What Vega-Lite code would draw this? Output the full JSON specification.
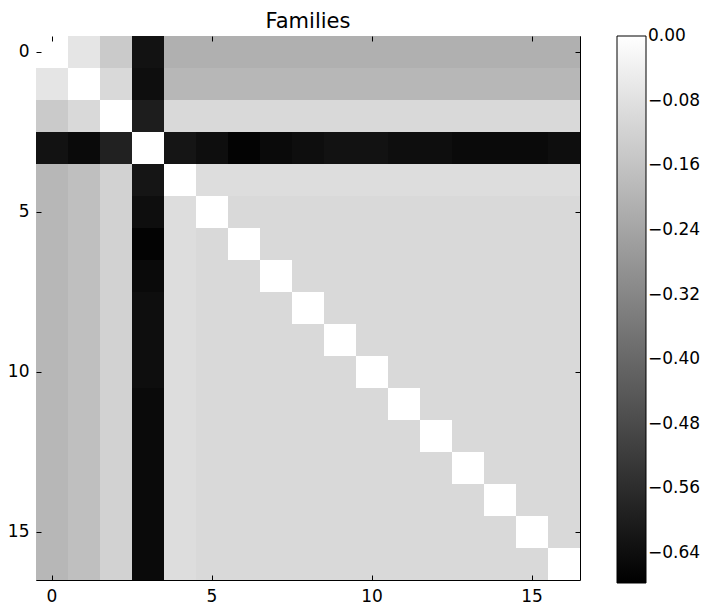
{
"$schema": "https://vega.github.io/schema/vega-lite/v6.json",
"width": 544, "height": 544,
"autosize": {"type": "none"},
"padding": {"left": 36, "top": 36, "right": 127, "bottom": 26},
"background": "white",
"title": {"text": "Families", "fontSize": 21, "font": "DejaVu Sans", "fontWeight": "normal", "color": "black", "offset": 4},
"data": {"values": [
{"r":0,"c":0,"v":0},{"r":0,"c":1,"v":-0.07},{"r":0,"c":2,"v":-0.14},{"r":0,"c":3,"v":-0.63},{"r":0,"c":4,"v":-0.21},{"r":0,"c":5,"v":-0.21},{"r":0,"c":6,"v":-0.21},{"r":0,"c":7,"v":-0.21},{"r":0,"c":8,"v":-0.21},{"r":0,"c":9,"v":-0.21},{"r":0,"c":10,"v":-0.21},{"r":0,"c":11,"v":-0.21},{"r":0,"c":12,"v":-0.21},{"r":0,"c":13,"v":-0.21},{"r":0,"c":14,"v":-0.21},{"r":0,"c":15,"v":-0.21},{"r":0,"c":16,"v":-0.21},
{"r":1,"c":0,"v":-0.07},{"r":1,"c":1,"v":0},{"r":1,"c":2,"v":-0.10},{"r":1,"c":3,"v":-0.64},{"r":1,"c":4,"v":-0.19},{"r":1,"c":5,"v":-0.19},{"r":1,"c":6,"v":-0.19},{"r":1,"c":7,"v":-0.19},{"r":1,"c":8,"v":-0.19},{"r":1,"c":9,"v":-0.19},{"r":1,"c":10,"v":-0.19},{"r":1,"c":11,"v":-0.19},{"r":1,"c":12,"v":-0.19},{"r":1,"c":13,"v":-0.19},{"r":1,"c":14,"v":-0.19},{"r":1,"c":15,"v":-0.19},{"r":1,"c":16,"v":-0.19},
{"r":2,"c":0,"v":-0.14},{"r":2,"c":1,"v":-0.10},{"r":2,"c":2,"v":0},{"r":2,"c":3,"v":-0.60},{"r":2,"c":4,"v":-0.10},{"r":2,"c":5,"v":-0.10},{"r":2,"c":6,"v":-0.10},{"r":2,"c":7,"v":-0.10},{"r":2,"c":8,"v":-0.10},{"r":2,"c":9,"v":-0.10},{"r":2,"c":10,"v":-0.10},{"r":2,"c":11,"v":-0.10},{"r":2,"c":12,"v":-0.10},{"r":2,"c":13,"v":-0.10},{"r":2,"c":14,"v":-0.10},{"r":2,"c":15,"v":-0.10},{"r":2,"c":16,"v":-0.10},
{"r":3,"c":0,"v":-0.63},{"r":3,"c":1,"v":-0.65},{"r":3,"c":2,"v":-0.59},{"r":3,"c":3,"v":0},{"r":3,"c":4,"v":-0.62},{"r":3,"c":5,"v":-0.64},{"r":3,"c":6,"v":-0.67},{"r":3,"c":7,"v":-0.65},{"r":3,"c":8,"v":-0.64},{"r":3,"c":9,"v":-0.63},{"r":3,"c":10,"v":-0.63},{"r":3,"c":11,"v":-0.64},{"r":3,"c":12,"v":-0.64},{"r":3,"c":13,"v":-0.65},{"r":3,"c":14,"v":-0.65},{"r":3,"c":15,"v":-0.65},{"r":3,"c":16,"v":-0.64},
{"r":4,"c":0,"v":-0.19},{"r":4,"c":1,"v":-0.17},{"r":4,"c":2,"v":-0.12},{"r":4,"c":3,"v":-0.62},{"r":4,"c":4,"v":0},{"r":4,"c":5,"v":-0.09},{"r":4,"c":6,"v":-0.09},{"r":4,"c":7,"v":-0.09},{"r":4,"c":8,"v":-0.09},{"r":4,"c":9,"v":-0.09},{"r":4,"c":10,"v":-0.09},{"r":4,"c":11,"v":-0.09},{"r":4,"c":12,"v":-0.09},{"r":4,"c":13,"v":-0.09},{"r":4,"c":14,"v":-0.09},{"r":4,"c":15,"v":-0.09},{"r":4,"c":16,"v":-0.09},
{"r":5,"c":0,"v":-0.19},{"r":5,"c":1,"v":-0.17},{"r":5,"c":2,"v":-0.12},{"r":5,"c":3,"v":-0.64},{"r":5,"c":4,"v":-0.09},{"r":5,"c":5,"v":0},{"r":5,"c":6,"v":-0.10},{"r":5,"c":7,"v":-0.10},{"r":5,"c":8,"v":-0.10},{"r":5,"c":9,"v":-0.10},{"r":5,"c":10,"v":-0.10},{"r":5,"c":11,"v":-0.10},{"r":5,"c":12,"v":-0.10},{"r":5,"c":13,"v":-0.10},{"r":5,"c":14,"v":-0.10},{"r":5,"c":15,"v":-0.10},{"r":5,"c":16,"v":-0.10},
{"r":6,"c":0,"v":-0.19},{"r":6,"c":1,"v":-0.17},{"r":6,"c":2,"v":-0.12},{"r":6,"c":3,"v":-0.67},{"r":6,"c":4,"v":-0.09},{"r":6,"c":5,"v":-0.10},{"r":6,"c":6,"v":0},{"r":6,"c":7,"v":-0.10},{"r":6,"c":8,"v":-0.10},{"r":6,"c":9,"v":-0.10},{"r":6,"c":10,"v":-0.10},{"r":6,"c":11,"v":-0.10},{"r":6,"c":12,"v":-0.10},{"r":6,"c":13,"v":-0.10},{"r":6,"c":14,"v":-0.10},{"r":6,"c":15,"v":-0.10},{"r":6,"c":16,"v":-0.10},
{"r":7,"c":0,"v":-0.19},{"r":7,"c":1,"v":-0.17},{"r":7,"c":2,"v":-0.12},{"r":7,"c":3,"v":-0.65},{"r":7,"c":4,"v":-0.09},{"r":7,"c":5,"v":-0.10},{"r":7,"c":6,"v":-0.10},{"r":7,"c":7,"v":0},{"r":7,"c":8,"v":-0.10},{"r":7,"c":9,"v":-0.10},{"r":7,"c":10,"v":-0.10},{"r":7,"c":11,"v":-0.10},{"r":7,"c":12,"v":-0.10},{"r":7,"c":13,"v":-0.10},{"r":7,"c":14,"v":-0.10},{"r":7,"c":15,"v":-0.10},{"r":7,"c":16,"v":-0.10},
{"r":8,"c":0,"v":-0.19},{"r":8,"c":1,"v":-0.17},{"r":8,"c":2,"v":-0.12},{"r":8,"c":3,"v":-0.64},{"r":8,"c":4,"v":-0.09},{"r":8,"c":5,"v":-0.10},{"r":8,"c":6,"v":-0.10},{"r":8,"c":7,"v":-0.10},{"r":8,"c":8,"v":0},{"r":8,"c":9,"v":-0.10},{"r":8,"c":10,"v":-0.10},{"r":8,"c":11,"v":-0.10},{"r":8,"c":12,"v":-0.10},{"r":8,"c":13,"v":-0.10},{"r":8,"c":14,"v":-0.10},{"r":8,"c":15,"v":-0.10},{"r":8,"c":16,"v":-0.10},
{"r":9,"c":0,"v":-0.19},{"r":9,"c":1,"v":-0.17},{"r":9,"c":2,"v":-0.12},{"r":9,"c":3,"v":-0.64},{"r":9,"c":4,"v":-0.09},{"r":9,"c":5,"v":-0.10},{"r":9,"c":6,"v":-0.10},{"r":9,"c":7,"v":-0.10},{"r":9,"c":8,"v":-0.10},{"r":9,"c":9,"v":0},{"r":9,"c":10,"v":-0.10},{"r":9,"c":11,"v":-0.10},{"r":9,"c":12,"v":-0.10},{"r":9,"c":13,"v":-0.10},{"r":9,"c":14,"v":-0.10},{"r":9,"c":15,"v":-0.10},{"r":9,"c":16,"v":-0.10},
{"r":10,"c":0,"v":-0.19},{"r":10,"c":1,"v":-0.17},{"r":10,"c":2,"v":-0.12},{"r":10,"c":3,"v":-0.64},{"r":10,"c":4,"v":-0.09},{"r":10,"c":5,"v":-0.10},{"r":10,"c":6,"v":-0.10},{"r":10,"c":7,"v":-0.10},{"r":10,"c":8,"v":-0.10},{"r":10,"c":9,"v":-0.10},{"r":10,"c":10,"v":0},{"r":10,"c":11,"v":-0.10},{"r":10,"c":12,"v":-0.10},{"r":10,"c":13,"v":-0.10},{"r":10,"c":14,"v":-0.10},{"r":10,"c":15,"v":-0.10},{"r":10,"c":16,"v":-0.10},
{"r":11,"c":0,"v":-0.19},{"r":11,"c":1,"v":-0.17},{"r":11,"c":2,"v":-0.12},{"r":11,"c":3,"v":-0.65},{"r":11,"c":4,"v":-0.09},{"r":11,"c":5,"v":-0.10},{"r":11,"c":6,"v":-0.10},{"r":11,"c":7,"v":-0.10},{"r":11,"c":8,"v":-0.10},{"r":11,"c":9,"v":-0.10},{"r":11,"c":10,"v":-0.10},{"r":11,"c":11,"v":0},{"r":11,"c":12,"v":-0.10},{"r":11,"c":13,"v":-0.10},{"r":11,"c":14,"v":-0.10},{"r":11,"c":15,"v":-0.10},{"r":11,"c":16,"v":-0.10},
{"r":12,"c":0,"v":-0.19},{"r":12,"c":1,"v":-0.17},{"r":12,"c":2,"v":-0.12},{"r":12,"c":3,"v":-0.65},{"r":12,"c":4,"v":-0.09},{"r":12,"c":5,"v":-0.10},{"r":12,"c":6,"v":-0.10},{"r":12,"c":7,"v":-0.10},{"r":12,"c":8,"v":-0.10},{"r":12,"c":9,"v":-0.10},{"r":12,"c":10,"v":-0.10},{"r":12,"c":11,"v":-0.10},{"r":12,"c":12,"v":0},{"r":12,"c":13,"v":-0.10},{"r":12,"c":14,"v":-0.10},{"r":12,"c":15,"v":-0.10},{"r":12,"c":16,"v":-0.10},
{"r":13,"c":0,"v":-0.19},{"r":13,"c":1,"v":-0.17},{"r":13,"c":2,"v":-0.12},{"r":13,"c":3,"v":-0.65},{"r":13,"c":4,"v":-0.09},{"r":13,"c":5,"v":-0.10},{"r":13,"c":6,"v":-0.10},{"r":13,"c":7,"v":-0.10},{"r":13,"c":8,"v":-0.10},{"r":13,"c":9,"v":-0.10},{"r":13,"c":10,"v":-0.10},{"r":13,"c":11,"v":-0.10},{"r":13,"c":12,"v":-0.10},{"r":13,"c":13,"v":0},{"r":13,"c":14,"v":-0.10},{"r":13,"c":15,"v":-0.10},{"r":13,"c":16,"v":-0.10},
{"r":14,"c":0,"v":-0.19},{"r":14,"c":1,"v":-0.17},{"r":14,"c":2,"v":-0.12},{"r":14,"c":3,"v":-0.65},{"r":14,"c":4,"v":-0.09},{"r":14,"c":5,"v":-0.10},{"r":14,"c":6,"v":-0.10},{"r":14,"c":7,"v":-0.10},{"r":14,"c":8,"v":-0.10},{"r":14,"c":9,"v":-0.10},{"r":14,"c":10,"v":-0.10},{"r":14,"c":11,"v":-0.10},{"r":14,"c":12,"v":-0.10},{"r":14,"c":13,"v":-0.10},{"r":14,"c":14,"v":0},{"r":14,"c":15,"v":-0.10},{"r":14,"c":16,"v":-0.10},
{"r":15,"c":0,"v":-0.19},{"r":15,"c":1,"v":-0.17},{"r":15,"c":2,"v":-0.12},{"r":15,"c":3,"v":-0.65},{"r":15,"c":4,"v":-0.09},{"r":15,"c":5,"v":-0.10},{"r":15,"c":6,"v":-0.10},{"r":15,"c":7,"v":-0.10},{"r":15,"c":8,"v":-0.10},{"r":15,"c":9,"v":-0.10},{"r":15,"c":10,"v":-0.10},{"r":15,"c":11,"v":-0.10},{"r":15,"c":12,"v":-0.10},{"r":15,"c":13,"v":-0.10},{"r":15,"c":14,"v":-0.10},{"r":15,"c":15,"v":0},{"r":15,"c":16,"v":-0.10},
{"r":16,"c":0,"v":-0.19},{"r":16,"c":1,"v":-0.17},{"r":16,"c":2,"v":-0.12},{"r":16,"c":3,"v":-0.65},{"r":16,"c":4,"v":-0.09},{"r":16,"c":5,"v":-0.10},{"r":16,"c":6,"v":-0.10},{"r":16,"c":7,"v":-0.10},{"r":16,"c":8,"v":-0.10},{"r":16,"c":9,"v":-0.10},{"r":16,"c":10,"v":-0.10},{"r":16,"c":11,"v":-0.10},{"r":16,"c":12,"v":-0.10},{"r":16,"c":13,"v":-0.10},{"r":16,"c":14,"v":-0.10},{"r":16,"c":15,"v":-0.10},{"r":16,"c":16,"v":0}
]},
"layer": [
{
"mark": {"type": "rect"},
"encoding": {
"x": {"field": "c", "type": "ordinal", "title": null, "scale": {"paddingInner": 0, "paddingOuter": 0}, "axis": {"orient": "bottom", "values": [0, 5, 10, 15], "labelAngle": 0}},
"y": {"field": "r", "type": "ordinal", "title": null, "scale": {"paddingInner": 0, "paddingOuter": 0}, "axis": {"orient": "left", "values": [0, 5, 10, 15], "labelPadding": 12}},
"color": {"field": "v", "type": "quantitative", "title": null,
"scale": {"domain": [-0.677, 0], "range": ["#000000", "#ffffff"], "interpolate": "rgb"},
"legend": {"values": [0, -0.08, -0.16, -0.24, -0.32, -0.4, -0.48, -0.56, -0.64], "format": ".2f", "direction": "vertical", "gradientLength": 547, "gradientThickness": 29, "offset": 36, "labelBaseline": "middle",
"encode": {"labels": {"update": {"baseline": {"value": "middle"}}}}}}
}
},
{
"mark": {"type": "rect", "opacity": 0},
"encoding": {
"x": {"field": "c", "type": "ordinal", "title": null, "axis": {"orient": "top", "values": [0, 5, 10, 15], "labels": false}},
"y": {"field": "r", "type": "ordinal", "title": null, "axis": {"orient": "right", "values": [0, 5, 10, 15], "labels": false}}
}
}
],
"resolve": {"axis": {"x": "independent", "y": "independent"}},
"config": {
"view": {"stroke": "black", "strokeWidth": 1},
"axis": {"domain": false, "grid": false, "ticks": true, "tickSize": -5, "tickColor": "black", "tickWidth": 1, "labelFontSize": 17, "labelFont": "DejaVu Sans", "labelColor": "black", "labelPadding": 13},
"legend": {"labelFontSize": 17, "labelFont": "DejaVu Sans", "labelColor": "black", "labelOffset": 6, "gradientStrokeColor": "black", "gradientStrokeWidth": 1, "labelOverlap": false}
}
}
